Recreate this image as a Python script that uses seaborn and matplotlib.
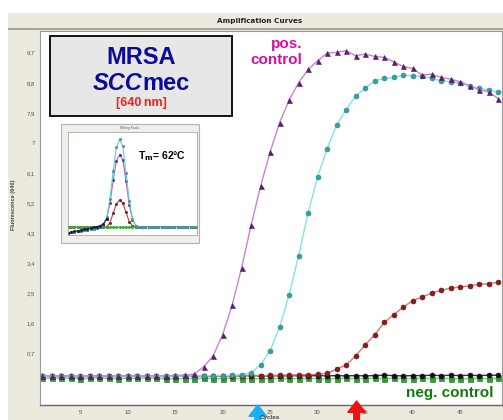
import matplotlib
matplotlib.use("Agg")
import numpy as np
import pandas as pd
import seaborn as sns
from matplotlib import pyplot as plt
from matplotlib.patches import Rectangle

# amplification data (fluorescence 640 nm per cycle)
cycles = list(range(1, 50))

pos_control = [0.03, 0.03, 0.02, 0.03, 0.02, 0.03, 0.02, 0.02, 0.03, 0.02, 0.03, 0.02, 0.03, 0.03, 0.04, 0.06,
               0.08, 0.30, 0.63, 1.26, 2.14, 3.26, 4.54, 5.71, 6.73, 7.61, 8.28, 8.80, 9.20, 9.46, 9.69, 9.71,
               9.76, 9.61, 9.66, 9.59, 9.56, 9.43, 9.29, 9.23, 9.03, 9.06, 8.96, 8.91, 8.83, 8.71, 8.59, 8.53, 8.33]
sample_cyan = [0.02, 0.03, 0.02, 0.02, 0.03, 0.02, 0.02, 0.03, 0.02, 0.02, 0.03, 0.02, 0.02, 0.02, 0.03, 0.03,
               0.03, 0.03, 0.04, 0.04, 0.05, 0.07, 0.13, 0.36, 0.79, 1.49, 2.46, 3.63, 4.91, 5.99, 6.83, 7.54,
               8.00, 8.41, 8.64, 8.86, 8.93, 8.96, 9.03, 9.01, 9.00, 8.93, 8.86, 8.83, 8.79, 8.71, 8.63, 8.59, 8.51]
sample_red = [0.03, 0.02, 0.03, 0.02, 0.02, 0.03, 0.02, 0.03, 0.02, 0.03, 0.02, 0.03, 0.03, 0.02, 0.03, 0.03,
              0.04, 0.03, 0.04, 0.04, 0.03, 0.04, 0.05, 0.04, 0.05, 0.05, 0.06, 0.06, 0.07, 0.08, 0.11, 0.23,
              0.36, 0.63, 0.96, 1.26, 1.63, 1.86, 2.09, 2.28, 2.39, 2.51, 2.59, 2.66, 2.69, 2.73, 2.77, 2.79, 2.83]
neg_black = [0.03, 0.02, 0.03, 0.02, 0.01, 0.02, 0.03, 0.02, 0.02, 0.03, 0.02, 0.03, 0.02, 0.01, 0.03, 0.04,
             0.03, 0.02, 0.03, 0.03, 0.04, 0.03, 0.04, 0.03, 0.03, 0.04, 0.03, 0.04, 0.03, 0.04, 0.03, 0.04,
             0.03, 0.04, 0.03, 0.04, 0.05, 0.04, 0.03, 0.04, 0.04, 0.05, 0.04, 0.05, 0.04, 0.05, 0.04, 0.05, 0.05]
neg_green = [-0.03, -0.04, -0.03, -0.04, -0.05, -0.04, -0.03, -0.04, -0.05, -0.04, -0.04, -0.03, -0.04, -0.06,
             -0.05, -0.05, -0.05, -0.04, -0.05, -0.05, -0.04, -0.05, -0.06, -0.05, -0.05, -0.04, -0.05, -0.05,
             -0.04, -0.05, -0.06, -0.05, -0.04, -0.05, -0.05, -0.04, -0.05, -0.04, -0.05, -0.05, -0.04, -0.05,
             -0.04, -0.05, -0.06, -0.05, -0.04, -0.05, -0.04]

y_ticks = [0.7, 1.6, 2.5, 3.4, 4.3, 5.2, 6.1, 7.0, 7.9, 8.8, 9.7]
y_tick_labels = ["0,7", "1,6", "2,5", "3,4", "4,3", "5,2", "6,1", "7", "7,9", "8,8", "9,7"]
x_ticks = [5, 10, 15, 20, 25, 30, 35, 40, 45]

ct_cyan = 23.7
ct_red = 34.1

# melting peaks inset (46..86 °C, 1 °C steps)
melt_temp = list(range(46, 87))
melt_cyan = [0.02, 0.025, 0.03, 0.035, 0.04, 0.045, 0.05, 0.055, 0.06, 0.07, 0.08, 0.10, 0.17, 0.35, 0.62, 0.85,
             0.93, 0.86, 0.60, 0.33, 0.16, 0.09, 0.08, 0.075, 0.075, 0.075, 0.075, 0.075, 0.075, 0.075, 0.075,
             0.075, 0.075, 0.075, 0.075, 0.075, 0.075, 0.075, 0.075, 0.075, 0.075]
melt_purple = [0.02, 0.025, 0.03, 0.035, 0.04, 0.045, 0.05, 0.055, 0.06, 0.07, 0.08, 0.10, 0.16, 0.31, 0.53, 0.72,
               0.78, 0.73, 0.52, 0.29, 0.15, 0.09, 0.08, 0.075, 0.075, 0.075, 0.075, 0.075, 0.075, 0.075, 0.075,
               0.075, 0.075, 0.075, 0.075, 0.075, 0.075, 0.075, 0.075, 0.075, 0.075]
melt_red = [0.075, 0.075, 0.075, 0.075, 0.075, 0.075, 0.075, 0.075, 0.075, 0.075, 0.075, 0.075, 0.08, 0.12, 0.21,
            0.30, 0.34, 0.31, 0.22, 0.13, 0.09, 0.08, 0.075, 0.075, 0.075, 0.075, 0.075, 0.075, 0.075, 0.075,
            0.075, 0.075, 0.075, 0.075, 0.075, 0.075, 0.075, 0.075, 0.075, 0.075, 0.075]
melt_green = [0.075, 0.076, 0.075, 0.074, 0.075, 0.076, 0.075, 0.075, 0.074, 0.075, 0.076, 0.075, 0.075, 0.074,
              0.075, 0.076, 0.075, 0.075, 0.074, 0.075, 0.076, 0.075, 0.075, 0.074, 0.075, 0.075, 0.075, 0.076,
              0.075, 0.074, 0.075, 0.076, 0.075, 0.075, 0.074, 0.075, 0.076, 0.075, 0.075, 0.074, 0.075]
navy_temp = [46, 47, 48, 49, 50, 51, 52, 53, 54, 55, 56, 57, 58]
navy_vals = [0.02, 0.027, 0.034, 0.041, 0.048, 0.055, 0.062, 0.068, 0.074, 0.082, 0.092, 0.11, 0.16]

W, H = 503, 420
BEIGE = "#ece9df"


def fp(x, y):
    return x / W, 1 - y / H


sns.set_style("white")
plt.rcParams["font.family"] = ["Liberation Sans", "DejaVu Sans"]

fig = plt.figure(figsize=(W / 100, H / 100), dpi=100, facecolor="white")
fig.add_artist(Rectangle(fp(8, 420), (W - 8) / W, (420 - 13) / H, transform=fig.transFigure,
                         facecolor=BEIGE, edgecolor="none", zorder=-5))
fig.add_artist(Rectangle(fp(8, 30), (W - 8) / W, 1.6 / H, transform=fig.transFigure,
                         facecolor="#a5a59d", edgecolor="none", zorder=-4))
fig.text(260 / W, fp(0, 21)[1], "Amplification Curves", ha="center", va="center", fontsize=5.2,
         fontweight="bold", family="DejaVu Sans", color="#222222")

ax = fig.add_axes([40 / W, 15 / H, 462 / W, 374 / H])
ax.set_facecolor("white")

series = [
    (neg_green, "#6fd26f", "s", "#2fa02f", "#1d6a1d"),
    (neg_black, "#2b2b6e", "o", "#111111", "#111111"),
    (sample_red, "#d27a7a", "o", "#8a1c1c", "#6e1414"),
    (sample_cyan, "#86e3e3", "o", "#3c9e9e", "#2f8a8a"),
    (pos_control, "#c982d8", "^", "#5d1f70", "#4c1760"),
]
for vals, lc, mk, mfc, mec in series:
    df = pd.DataFrame({"cycle": cycles, "value": vals})
    sns.lineplot(data=df, x="cycle", y="value", ax=ax, color=lc, linewidth=1.0, marker=mk, markersize=3.6,
                 markerfacecolor=mfc, markeredgecolor=mec, markeredgewidth=0.4)

ax.set_xlim(0.79, 49.4)
ax.set_ylim(-0.84, 10.35)
ax.set_xticks(x_ticks)
ax.set_xticklabels([str(t) for t in x_ticks])
ax.set_yticks(y_ticks)
ax.set_yticklabels(y_tick_labels)
ax.tick_params(axis="both", labelsize=4.3, length=2, width=0.5, colors="#555555", pad=1.5, direction="out")
ax.set_xlabel("")
ax.set_ylabel("")
for side in ["left", "top", "right"]:
    ax.spines[side].set_color("#999999")
    ax.spines[side].set_linewidth(0.8)
ax.spines["bottom"].set_color("#666666")
ax.spines["bottom"].set_linewidth(1.0)

fig.text(270 / W, fp(0, 418)[1], "Cycles", ha="center", va="center", fontsize=4.5, fontweight="bold",
         color="#444444")
fig.text(14 / W, fp(0, 205)[1], "Fluorescence (640)", rotation=90, ha="center", va="center", fontsize=4,
         fontweight="bold", color="#444444")

# Ct arrows
for ct, tip_y, col in [(ct_cyan, 405, "#18aef0"), (ct_red, 401, "#ee1111")]:
    ax.annotate("", xy=(ct, fp(0, tip_y)[1]), xycoords=("data", "figure fraction"),
                xytext=(ct, -0.02), textcoords=("data", "figure fraction"),
                arrowprops=dict(arrowstyle="simple,head_length=0.9,head_width=1.4,tail_width=0.45",
                                color=col, mutation_scale=9, shrinkA=0, shrinkB=0),
                annotation_clip=False)

# label box
fig.add_artist(Rectangle(fp(50, 116), 182 / W, 80 / H, transform=fig.transFigure,
                         facecolor="#e7e7e7", edgecolor="black", linewidth=1.3, zorder=2))
fig.text(141 / W, fp(0, 63.5)[1], "MRSA", ha="center", va="baseline", fontsize=17, fontweight="bold",
         color="#0b0b9c", zorder=4)
fig.text(142 / W, fp(0, 90)[1], "SCC", ha="right", va="baseline", fontsize=17, fontweight="bold",
         style="italic", color="#0b0b9c", zorder=4)
fig.text(142 / W, fp(0, 90)[1], "mec", ha="left", va="baseline", fontsize=17, fontweight="bold",
         color="#0b0b9c", zorder=4)
fig.text(141 / W, fp(0, 106)[1], "[640\u2009nm]", ha="center", va="baseline", fontsize=9, fontweight="bold",
         color="#ff1a1a", zorder=4)

fig.text(302 / W, fp(0, 48)[1], "pos.", ha="right", va="baseline", fontsize=11, fontweight="bold",
         color="#d2109e")
fig.text(302 / W, fp(0, 64)[1], "control", ha="right", va="baseline", fontsize=11, fontweight="bold",
         color="#d2109e")
fig.text(493 / W, fp(0, 396.5)[1], "neg. control", ha="right", va="baseline", fontsize=11, fontweight="bold",
         color="#137a13")

# melting peaks inset
fig.add_artist(Rectangle(fp(61, 243), 138 / W, 119 / H, transform=fig.transFigure,
                         facecolor="#efeee8", edgecolor="#b5b5ad", linewidth=0.8, zorder=2))
fig.text(130 / W, fp(0, 128.5)[1], "Melting Peaks", ha="center", va="center", fontsize=2.2, color="#555555",
         zorder=4)
ins = fig.add_axes([68 / W, 1 - 235 / H, 129 / W, 103 / H], zorder=5)
ins.set_facecolor("white")
for t, v, c, mc in [(melt_temp, melt_red, "#b04040", "#8a1c1c"),
                    (melt_temp, melt_green, "#2fae2f", "#2fae2f"),
                    (melt_temp, melt_purple, "#b060c8", "#6b2a80"),
                    (melt_temp, melt_cyan, "#60d0d0", "#3c9e9e"),
                    (navy_temp, navy_vals, "#2b2b6e", "#1b1b50")]:
    sns.lineplot(x=t, y=v, ax=ins, color=c, linewidth=0.8, marker="o", markersize=1.4,
                 markerfacecolor=mc, markeredgecolor=mc)
ins.set_xlim(46, 86)
ins.set_ylim(0, 1)
ins.set_xticks(np.arange(46, 87, 4))
ins.set_yticks(np.arange(0.05, 1.0, 0.075))
ins.set_xticklabels(["" for _ in range(len(ins.get_xticks()))])
ins.set_yticklabels(["" for _ in range(len(ins.get_yticks()))])
ins.tick_params(axis="both", length=1.2, width=0.4, colors="#777777")
for s in ins.spines.values():
    s.set_color("#999999")
    s.set_linewidth(0.5)
ins.text(0.54, 0.74, r"T$_\mathbf{m}$= 62°C", transform=ins.transAxes, fontsize=7.5, fontweight="bold",
         color="black", ha="left", va="baseline")

fig.savefig("out.png", dpi=100, facecolor=fig.get_facecolor())
